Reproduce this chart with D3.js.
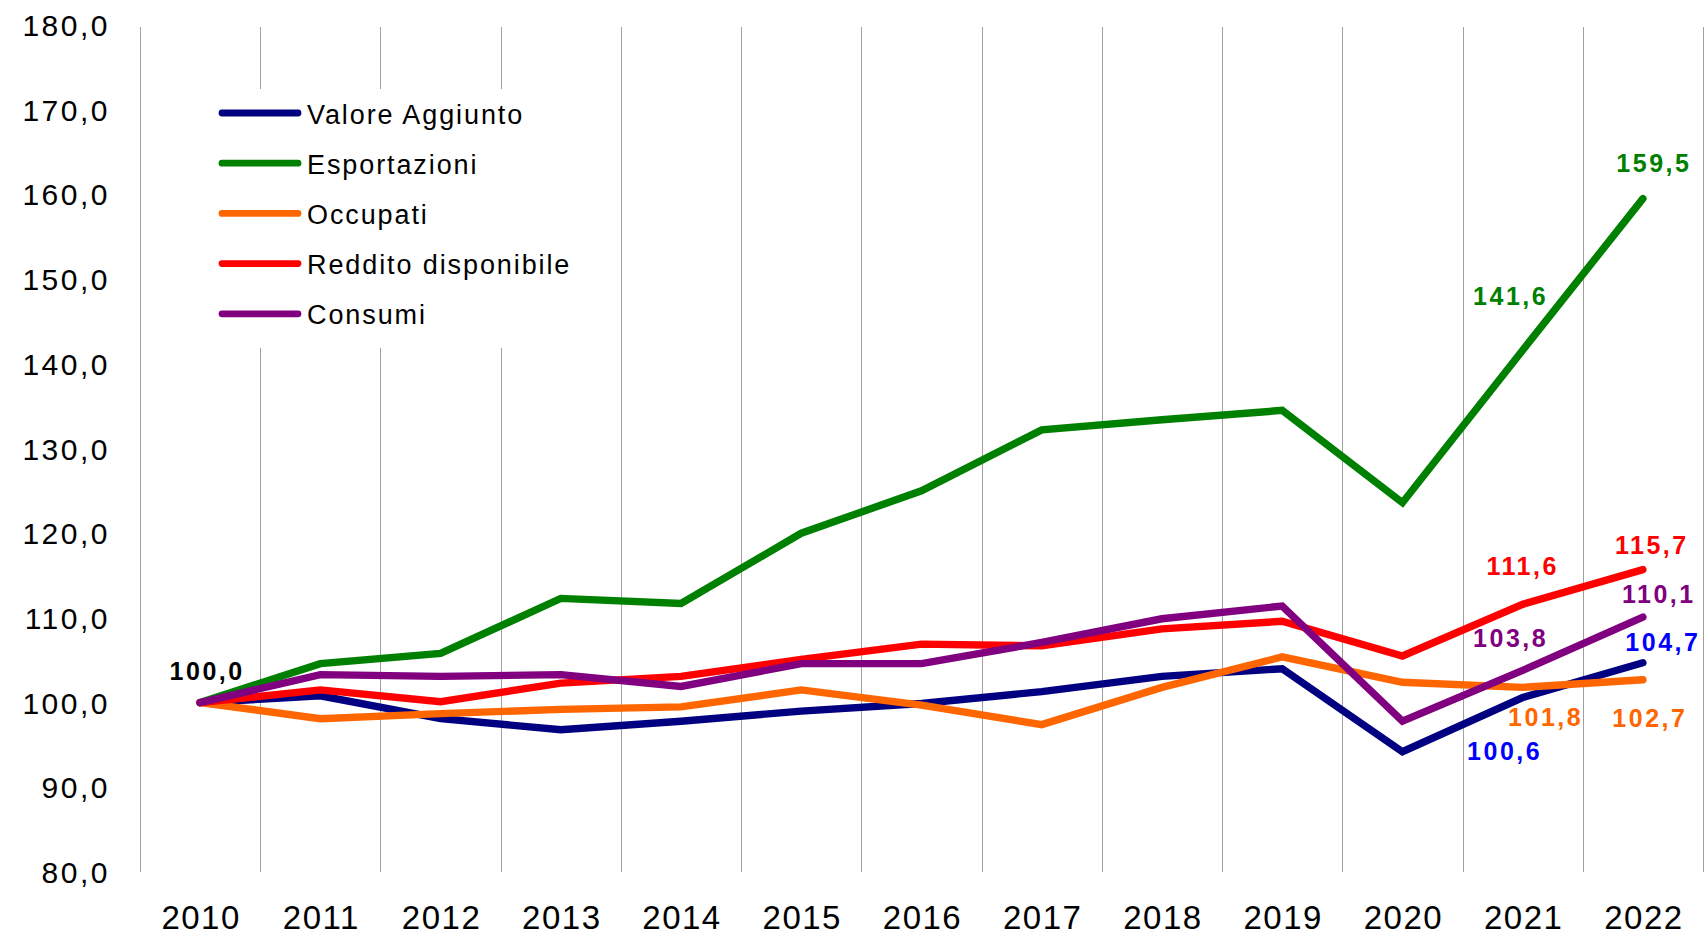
<!DOCTYPE html>
<html>
<head>
<meta charset="utf-8">
<script src="https://cdn.jsdelivr.net/npm/d3@7"></script>
<style>
  body { margin: 0; background: #fff; }
  svg { display: block; font-family: "Liberation Sans", Arial, sans-serif; }
  .grid line { stroke: #a0a0a0; stroke-width: 1; }
  .tick-label { font-size: 30px; fill: #000; letter-spacing: 2.5px; }
  .year-label { font-size: 33px; fill: #000; letter-spacing: 1.5px; }
  .legend-text { font-size: 27px; fill: #000; letter-spacing: 1.9px; }
  .val { font-size: 25px; font-weight: bold; letter-spacing: 2.5px; }
</style>
</head>
<body>
<div class="container"><svg width="1706" height="937"></svg></div>
<script>
var years = ["2010", "2011", "2012", "2013", "2014", "2015", "2016", "2017", "2018", "2019", "2020", "2021", "2022"];
var yTicks = [80, 90, 100, 110, 120, 130, 140, 150, 160, 170, 180];

var valoreAggiunto = [100.0, 100.8, 98.1, 96.8, 97.8, 99.0, 99.9, 101.3, 103.1, 104.0, 94.2, 100.6, 104.7];
var esportazioni   = [100.0, 104.6, 105.8, 112.3, 111.7, 120.0, 125.0, 132.2, 133.4, 134.5, 123.6, 141.6, 159.5];
var occupati       = [100.0, 98.1, 98.7, 99.2, 99.5, 101.5, 99.7, 97.4, 101.8, 105.4, 102.4, 101.8, 102.7];
var reddito        = [100.0, 101.5, 100.1, 102.3, 103.1, 105.1, 106.9, 106.7, 108.7, 109.6, 105.5, 111.6, 115.7];
var consumi        = [100.0, 103.3, 103.1, 103.3, 101.9, 104.6, 104.6, 107.1, 109.9, 111.4, 97.8, 103.8, 110.1];

var seriesNames = ["Valore Aggiunto", "Esportazioni", "Occupati", "Reddito disponibile", "Consumi"];
var seriesColors = ["#000080", "#008000", "#ff6600", "#ff0000", "#800080"];
var labelColors = ["#0000ff", "#008000", "#ff6600", "#ff0000", "#800080"];
var seriesValues = [valoreAggiunto, esportazioni, occupati, reddito, consumi];

// which points get a value label: [series index, year index, dx, dy]
var labelled = [
    [0, 11, -18, 53], [0, 12, 20, -21],
    [1, 11, -12, -54], [1, 12, 11, -36],
    [2, 11, 23, 30], [2, 12, 7, 38],
    [3, 11, 0, -38], [3, 12, 9, -25],
    [4, 11, -12, -32], [4, 12, 16, -23]
];

var fmt = function (v) { return d3.format(".1f")(v).replace(".", ","); };

function draw_chart() {
    var svg = d3.select(".container").select("svg");

    var x = d3.scaleBand().domain(years).range([140, 1703]).padding(0);
    var y = d3.scaleLinear().domain([80, 180]).range([872, 25]);
    var cx = function (i) { return x(years[i]) + x.bandwidth() / 2; };

    // vertical gridlines on band edges
    var edges = years.map(function (d) { return x(d); }).concat([x.range()[1]]);
    svg.append("g").attr("class", "grid")
        .selectAll("line").data(edges).enter().append("line")
        .attr("x1", function (d) { return Math.round(d) + 0.5; })
        .attr("x2", function (d) { return Math.round(d) + 0.5; })
        .attr("y1", y(180) + 2)
        .attr("y2", y(80));

    // y tick labels
    svg.append("g").selectAll("text").data(yTicks).enter().append("text")
        .attr("class", "tick-label")
        .attr("x", 110)
        .attr("y", function (d) { return y(d) + 11; })
        .attr("text-anchor", "end")
        .text(fmt);

    // x labels
    svg.append("g").selectAll("text").data(years).enter().append("text")
        .attr("class", "year-label")
        .attr("x", function (d, i) { return cx(i) + 1; })
        .attr("y", 929)
        .attr("text-anchor", "middle")
        .text(function (d) { return d; });

    // legend background hides the gridlines behind it
    svg.append("rect")
        .attr("x", 205).attr("y", 89)
        .attr("width", 385).attr("height", 259)
        .attr("fill", "#fff");

    var line = d3.line()
        .x(function (d, i) { return cx(i); })
        .y(function (d) { return y(d); });

    svg.append("g").selectAll("path").data(seriesValues).enter().append("path")
        .attr("d", line)
        .attr("fill", "none")
        .attr("stroke", function (d, i) { return seriesColors[i]; })
        .attr("stroke-width", 7.4)
        .attr("stroke-linecap", "round")
        .attr("stroke-linejoin", "miter");

    // legend
    var leg = svg.append("g").selectAll("g").data(seriesNames).enter().append("g")
        .attr("transform", function (d, i) { return "translate(0," + (113 + i * 50.2) + ")"; });
    leg.append("line")
        .attr("x1", 222).attr("x2", 298)
        .attr("stroke", function (d, i) { return seriesColors[i]; })
        .attr("stroke-width", 6.8)
        .attr("stroke-linecap", "round");
    leg.append("text")
        .attr("class", "legend-text")
        .attr("x", 307).attr("y", 10.5)
        .text(function (d) { return d; });

    // start label
    svg.append("text")
        .attr("class", "val")
        .attr("x", cx(0) + 7).attr("y", y(100) - 32 + 9)
        .attr("text-anchor", "middle")
        .attr("fill", "#000")
        .text(fmt(valoreAggiunto[0]));

    // end labels
    svg.append("g").selectAll("text").data(labelled).enter().append("text")
        .attr("class", "val")
        .attr("x", function (d) { return cx(d[1]) + d[2]; })
        .attr("y", function (d) { return y(seriesValues[d[0]][d[1]]) + d[3] + 9; })
        .attr("text-anchor", "middle")
        .attr("fill", function (d) { return labelColors[d[0]]; })
        .text(function (d) { return fmt(seriesValues[d[0]][d[1]]); });
}

draw_chart();
</script>
</body>
</html>
